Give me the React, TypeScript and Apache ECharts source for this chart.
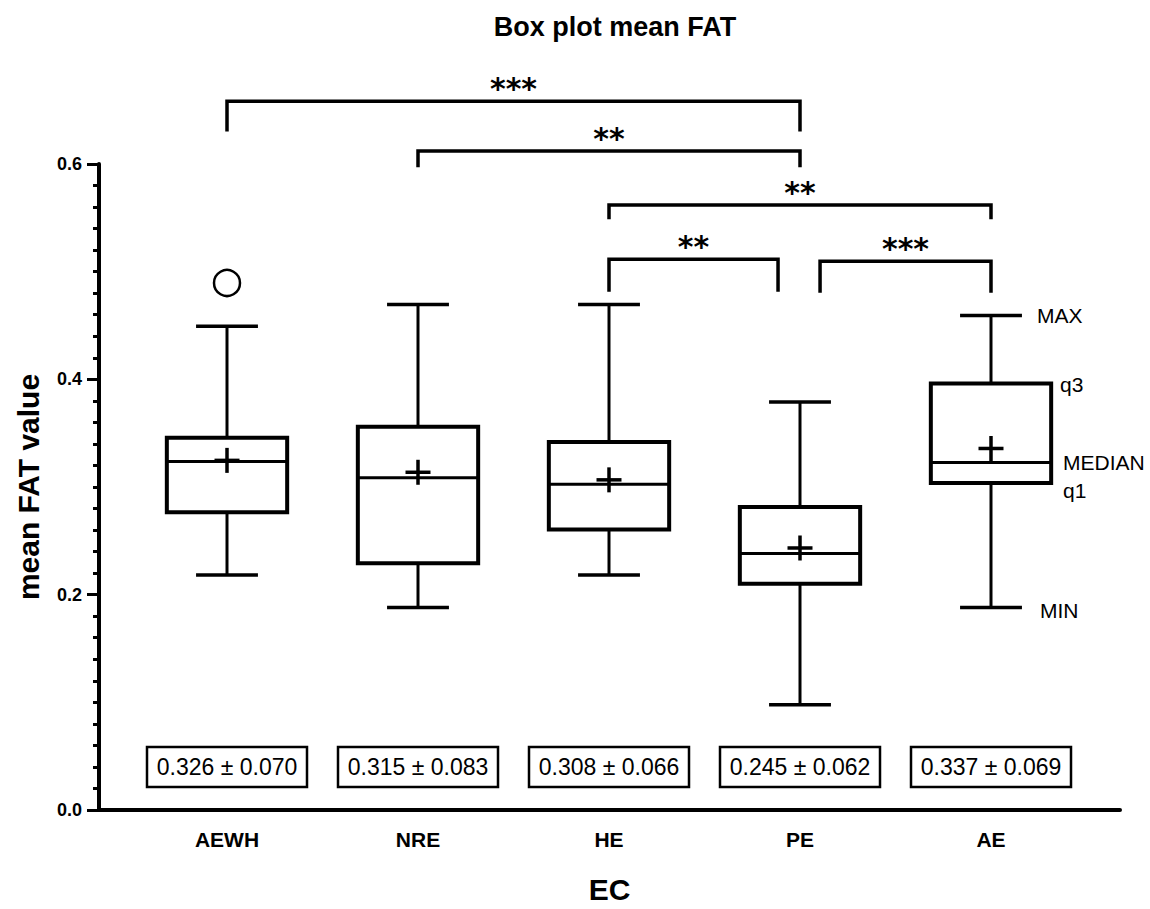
import React, { useEffect, useRef } from 'react';
import * as echarts from 'echarts';

// ---- data ----
const categories = ['AEWH', 'NRE', 'HE', 'PE', 'AE'];
const mins = [0.22, 0.19, 0.22, 0.1, 0.19];
const q1s = [0.278, 0.231, 0.262, 0.212, 0.305];
const medians = [0.325, 0.31, 0.304, 0.24, 0.324];
const q3s = [0.347, 0.357, 0.343, 0.283, 0.397];
const maxs = [0.45, 0.47, 0.47, 0.38, 0.46];
const means = [0.326, 0.315, 0.308, 0.245, 0.337];
const sds = [0.07, 0.083, 0.066, 0.062, 0.069];
const outlierCats = ['AEWH'];
const outlierValues = [0.49];

const bracketFrom = ['AEWH', 'NRE', 'HE', 'HE', 'PE'];
const bracketTo = ['PE', 'PE', 'AE', 'PE', 'AE'];
const bracketLevels = [0.658, 0.612, 0.562, 0.512, 0.51];
const bracketLegEnds = [0.63, 0.597, 0.549, 0.482, 0.481];
const bracketStars = ['***', '**', '**', '**', '***'];

const yMin = 0;
const yMax = 0.6;
const yInterval = 0.2;

const annotatedCategory = 'AE';
const annotationLabels = ['MIN', 'q1', 'MEDIAN', 'q3', 'MAX'];

const FONT = '"Liberation Sans", Arial, Helvetica, sans-serif';

export default function App() {
  const ref = useRef<HTMLDivElement>(null);

  useEffect(() => {
    if (!ref.current) return;
    const chart = echarts.init(ref.current, undefined, { renderer: 'svg' });

    const idxOf = (c: string) => categories.indexOf(c);

    const boxData = categories.map((_, i) => [i, mins[i], q1s[i], medians[i], q3s[i], maxs[i], means[i]]);
    const statData = categories.map((_, i) => [i, means[i], sds[i]]);
    const outlierData = outlierCats.map((c, k) => [idxOf(c), outlierValues[k]]);
    const bracketData = bracketFrom.map((f, k) => [idxOf(f), idxOf(bracketTo[k]), bracketLevels[k], bracketLegEnds[k], k]);

    // adjacent brackets sharing an endpoint get their shared ends nudged apart
    const adjacent = bracketData.filter((b) => b[1] - b[0] === 1);
    const sharedEnd = (cat: number, k: number) =>
      adjacent.some((b) => b[4] !== k && (b[0] === cat || b[1] === cat));

    const ai = idxOf(annotatedCategory);
    const annoValues = [mins[ai], q1s[ai], medians[ai], q3s[ai], maxs[ai]];
    const annoData = annotationLabels.map((_, k) => [ai, annoValues[k], k]);
    const annoDx = [49, 72, 72, 69, 46];
    const annoDy = [3, 7, 0, 1, 0];

    const ln = (x1: number, y1: number, x2: number, y2: number, w: number) => ({
      type: 'line',
      shape: { x1, y1, x2, y2 },
      style: { stroke: '#000', lineWidth: w, fill: 'none' },
    });

    const option: any = {
      animation: false,
      backgroundColor: '#fff',
      textStyle: { fontFamily: FONT },
      title: {
        text: 'Box plot mean FAT',
        left: 610,
        top: 8,
        textAlign: 'center',
        textStyle: { fontWeight: 'bold', fontSize: 27, color: '#000', fontFamily: FONT },
      },
      grid: [
        { left: 131.5, width: 955, top: 164, height: 649 },
        { left: 99, right: 30, top: 164, height: 649 },
      ],
      xAxis: [
        {
          gridIndex: 0,
          type: 'category',
          data: categories,
          axisLine: { show: false },
          axisTick: { show: false },
          splitLine: { show: false },
          axisLabel: { color: '#000', fontWeight: 'bold', fontSize: 21, margin: 16, fontFamily: FONT },
        },
        {
          gridIndex: 1,
          type: 'value',
          min: 0,
          max: 1,
          axisLine: { show: true, lineStyle: { color: '#000', width: 4 } },
          axisTick: { show: false },
          axisLabel: { show: false },
          splitLine: { show: false },
          name: 'EC',
          nameLocation: 'middle',
          nameGap: 64,
          nameTextStyle: { fontWeight: 'bold', fontSize: 30, color: '#000', fontFamily: FONT },
        },
      ],
      yAxis: [
        { gridIndex: 0, type: 'value', min: yMin, max: yMax, show: false },
        {
          gridIndex: 1,
          type: 'value',
          min: yMin,
          max: yMax,
          interval: yInterval,
          axisLine: { show: true, lineStyle: { color: '#000', width: 4 } },
          axisTick: { show: true, length: 12, lineStyle: { color: '#000', width: 3 } },
          minorTick: { show: true, splitNumber: 10, length: 6, lineStyle: { color: '#000', width: 3 } },
          splitLine: { show: false },
          axisLabel: {
            color: '#000',
            fontWeight: 'bold',
            fontSize: 18,
            margin: 17,
            fontFamily: FONT,
            formatter: (v: number) => v.toFixed(1),
          },
          name: 'mean FAT value',
          nameLocation: 'middle',
          nameGap: 56,
          nameTextStyle: { fontWeight: 'bold', fontSize: 30, color: '#000', fontFamily: FONT },
        },
      ],
      series: [
        {
          type: 'custom',
          xAxisIndex: 0,
          yAxisIndex: 0,
          clip: false,
          data: boxData,
          encode: { x: 0, y: 1 },
          renderItem: (params: any, api: any) => {
            const i = api.value(0);
            const band = api.size([1, 0])[0];
            const pMin = api.coord([i, api.value(1)]);
            const cx = pMin[0];
            const yMn = pMin[1];
            const yQ1 = api.coord([i, api.value(2)])[1];
            const yMed = api.coord([i, api.value(3)])[1];
            const yQ3 = api.coord([i, api.value(4)])[1];
            const yMx = api.coord([i, api.value(5)])[1];
            const yMean = api.coord([i, api.value(6)])[1];
            const hw = band * 0.315;
            const cw = band * 0.162;
            const arm = 12.5;
            return {
              type: 'group',
              children: [
                ln(cx, yQ3, cx, yMx, 3),
                ln(cx, yQ1, cx, yMn, 3),
                ln(cx - cw, yMx, cx + cw, yMx, 3.5),
                ln(cx - cw, yMn, cx + cw, yMn, 3.5),
                {
                  type: 'rect',
                  shape: { x: cx - hw, y: yQ3, width: 2 * hw, height: yQ1 - yQ3 },
                  style: { fill: 'none', stroke: '#000', lineWidth: 4 },
                },
                ln(cx - hw, yMed, cx + hw, yMed, 3),
                ln(cx - arm, yMean, cx + arm, yMean, 3.5),
                ln(cx, yMean - arm, cx, yMean + arm, 3.5),
              ],
            };
          },
        },
        {
          type: 'scatter',
          xAxisIndex: 0,
          yAxisIndex: 0,
          data: outlierData,
          symbol: 'circle',
          symbolSize: 26,
          itemStyle: { color: '#fff', borderColor: '#000', borderWidth: 2.5, opacity: 1 },
        },
        {
          type: 'custom',
          xAxisIndex: 0,
          yAxisIndex: 0,
          clip: false,
          data: statData,
          encode: { x: 0, y: 1 },
          renderItem: (params: any, api: any) => {
            const i = api.value(0);
            const p0 = api.coord([i, 0]);
            const cx = p0[0];
            const cy = p0[1] - 46;
            const txt = `${Number(api.value(1)).toFixed(3)} ± ${Number(api.value(2)).toFixed(3)}`;
            return {
              type: 'group',
              children: [
                {
                  type: 'rect',
                  shape: { x: cx - 80, y: cy - 20, width: 160, height: 40 },
                  style: { fill: '#fff', stroke: '#000', lineWidth: 2.5 },
                },
                {
                  type: 'text',
                  x: cx,
                  y: cy,
                  style: {
                    text: txt,
                    fontSize: 23,
                    fontFamily: FONT,
                    fill: '#000',
                    align: 'center',
                    verticalAlign: 'middle',
                  },
                },
              ],
            };
          },
        },
        {
          type: 'custom',
          xAxisIndex: 0,
          yAxisIndex: 0,
          clip: false,
          data: bracketData,
          encode: { x: 0, y: 2 },
          renderItem: (params: any, api: any) => {
            const from = api.value(0);
            const to = api.value(1);
            const k = api.value(4);
            const band = api.size([1, 0])[0];
            const yBar = api.coord([from, api.value(2)])[1];
            const yLeg = api.coord([from, api.value(3)])[1];
            let x1 = api.coord([from, 0])[0];
            let x2 = api.coord([to, 0])[0];
            if (to - from === 1) {
              if (sharedEnd(from, k)) x1 += band * 0.105;
              if (sharedEnd(to, k)) x2 -= band * 0.115;
            }
            return {
              type: 'group',
              children: [
                {
                  type: 'polyline',
                  shape: { points: [[x1, yLeg], [x1, yBar], [x2, yBar], [x2, yLeg]] },
                  style: { stroke: '#000', lineWidth: 3.5, fill: 'none' },
                },
                {
                  type: 'text',
                  x: (x1 + x2) / 2,
                  y: yBar - 13,
                  style: {
                    text: bracketStars[k],
                    fontSize: 30,
                    fontWeight: 'bold',
                    fontFamily: '"DejaVu Sans", sans-serif',
                    fill: '#000',
                    align: 'center',
                    verticalAlign: 'middle',
                  },
                },
              ],
            };
          },
        },
        {
          type: 'custom',
          xAxisIndex: 0,
          yAxisIndex: 0,
          clip: false,
          data: annoData,
          encode: { x: 0, y: 1 },
          renderItem: (params: any, api: any) => {
            const i = api.value(0);
            const k = api.value(2);
            const p = api.coord([i, api.value(1)]);
            return {
              type: 'text',
              x: p[0] + annoDx[k],
              y: p[1] + annoDy[k],
              style: {
                text: annotationLabels[k],
                fontSize: 21,
                fontFamily: FONT,
                fill: '#000',
                align: 'left',
                verticalAlign: 'middle',
              },
            };
          },
        },
      ],
    };

    chart.setOption(option);
    return () => chart.dispose();
  }, []);

  return (
    <div
      ref={ref}
      style={{ position: 'fixed', left: 0, top: 0, width: 1150, height: 909, background: '#fff' }}
    />
  );
}
